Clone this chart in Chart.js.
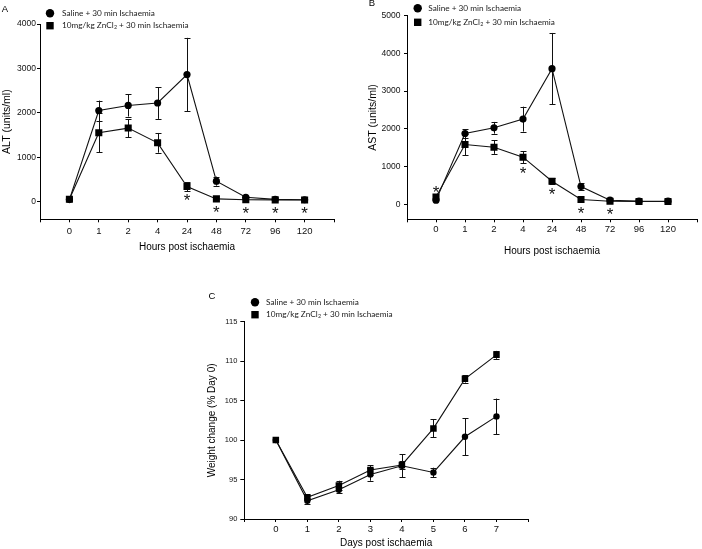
<!DOCTYPE html>
<html><head><meta charset="utf-8">
<script src="https://cdn.jsdelivr.net/npm/chart.js@4"></script>
<style>
html,body{margin:0;padding:0;background:#fff;width:702px;height:549px;overflow:hidden;position:relative}
canvas{position:absolute}
</style></head><body>
<canvas id="cA" width="351" height="270" style="left:0;top:0;width:351px;height:270px"></canvas>
<canvas id="cB" width="351" height="270" style="left:351px;top:0;width:351px;height:270px"></canvas>
<canvas id="cC" width="360" height="269" style="left:180px;top:280px;width:360px;height:269px"></canvas>
<script>
// ---------- data ----------
const hourLabels = ['0','1','2','4','24','48','72','96','120'];
const dayLabels = ['0','1','2','3','4','5','6','7'];
const seriesNames = ['Saline + 30 min Ischaemia', '10mg/kg ZnCl', '2', ' + 30 min Ischaemia'];

const altSaline = [45, 2050, 2165, 2220, 2860, 460, 95, 50, 40];
const altSalineErr = [0, 225, 250, 358, 828, 102, 0, 0, 0];
const altZinc = [52, 1550, 1655, 1323, 338, 60, 40, 38, 35];
const altZincErr = [0, 436, 205, 222, 100, 0, 0, 0, 0];
const altSig = [4, 5, 6, 7, 8];
const altSigAbove = [];
const altTicks = [0, 1000, 2000, 3000, 4000];

const astSaline = [108, 1876, 2027, 2257, 3595, 469, 106, 82, 80];
const astSalineErr = [0, 115, 155, 330, 947, 93, 0, 0, 0];
const astZinc = [190, 1584, 1513, 1248, 611, 124, 80, 72, 72];
const astZincErr = [0, 283, 177, 155, 75, 0, 0, 0, 0];
const astSig = [0, 3, 4, 5, 6];
const astSigAbove = [0];
const astTicks = [0, 1000, 2000, 3000, 4000, 5000];

const wtSaline = [100, 92.3, 93.7, 95.65, 96.75, 95.9, 100.42, 103.0];
const wtSalineErr = [0, 0.4, 0.4, 0.8, 1.45, 0.6, 2.33, 2.26];
const wtZinc = [100, 92.75, 94.25, 96.2, 96.85, 101.48, 107.76, 110.8];
const wtZincErr = [0, 0.3, 0.6, 0.6, 0.5, 1.13, 0.47, 0.5];
const wtTicks = [90, 95, 100, 105, 110, 115];

// ---------- helpers ----------
const FONT = "'Liberation Sans', Arial, sans-serif";
const INK = '#111';

function pts(vals){ return vals.map((v,i)=>({x:i,y:v})); }

function extrasPlugin(cfg){
  return {
    id:'extras_'+cfg.label,
    beforeDatasetsDraw(chart){
      const ctx = chart.ctx, xs = chart.scales.x, ys = chart.scales.y;
      ctx.save();
      ctx.strokeStyle = INK; ctx.lineWidth = 1;
      chart.data.datasets.forEach(ds=>{
        ds.data.forEach((p,i)=>{
          const e = ds.err[i]; if(!e) return;
          const x = Math.round(xs.getPixelForValue(p.x))+0.5;
          const y1 = ys.getPixelForValue(p.y+e), y2 = ys.getPixelForValue(p.y-e);
          ctx.beginPath();
          ctx.moveTo(x,y1); ctx.lineTo(x,y2);
          ctx.moveTo(x-cfg.cap,Math.round(y1)+0.5); ctx.lineTo(x+cfg.cap,Math.round(y1)+0.5);
          ctx.moveTo(x-cfg.cap,Math.round(y2)+0.5); ctx.lineTo(x+cfg.cap,Math.round(y2)+0.5);
          ctx.stroke();
        });
      });
      ctx.restore();
    },
    afterDatasetsDraw(chart){
      if(!cfg.sig) return;
      const ctx = chart.ctx, xs = chart.scales.x, ys = chart.scales.y;
      ctx.save();
      ctx.fillStyle = INK;
      ctx.font = "17px " + FONT;
      ctx.textAlign = 'center';
      ctx.textBaseline = 'alphabetic';
      const m = ctx.measureText('*');
      const a = m.actualBoundingBoxAscent, d = m.actualBoundingBoxDescent;
      cfg.sig.forEach(i=>{
        const above = cfg.sigAbove.includes(i);
        let yb = -Infinity, yt = Infinity;
        chart.data.datasets.forEach(ds=>{
          const p = ds.data[i], e = ds.err[i];
          const r = ds.pointRadius * (ds.pointStyle==='rect'?0.71:1);
          yb = Math.max(yb, ys.getPixelForValue(p.y-e), ys.getPixelForValue(p.y)+r);
          yt = Math.min(yt, ys.getPixelForValue(p.y+e), ys.getPixelForValue(p.y)-r);
        });
        const cy = above ? yt - 5 : yb + 6.5;
        const x = xs.getPixelForValue(i);
        ctx.fillText('*', x, cy + (a - d)/2);
      });
      ctx.restore();
    },
    afterDraw(chart){
      const ctx = chart.ctx;
      ctx.save();
      // panel letter
      ctx.fillStyle = '#000';
      ctx.font = "9.5px " + FONT;
      ctx.textAlign='center'; ctx.textBaseline='middle';
      ctx.fillText(cfg.label, cfg.labelX, cfg.labelY);
      // legend
      const L = cfg.legend;
      ctx.fillStyle = '#000';
      ctx.beginPath(); ctx.arc(L.mx, L.y1, 4.2, 0, Math.PI*2); ctx.fill();
      ctx.fillRect(L.mx-3.7, L.y2-3.7, 7.4, 7.4);
      const fam = "Lato, 'Open Sans', sans-serif";
      ctx.font = "10px " + fam;
      const w10 = ctx.measureText(seriesNames[0]).width;
      const fs = 10 * 93 / w10;
      ctx.font = fs.toFixed(2) + "px " + fam;
      ctx.textAlign = 'left'; ctx.textBaseline='middle';
      ctx.fillStyle = '#1a1a1a';
      ctx.fillText(seriesNames[0], L.tx, L.y1);
      let x = L.tx;
      ctx.fillText(seriesNames[1], x, L.y2);
      x += ctx.measureText(seriesNames[1]).width;
      ctx.font = (fs*0.65).toFixed(2) + "px " + fam;
      ctx.fillText(seriesNames[2], x+0.3, L.y2+2);
      x += ctx.measureText(seriesNames[2]).width + 0.3;
      ctx.font = fs.toFixed(2) + "px " + fam;
      ctx.fillText(seriesNames[3], x, L.y2);
      ctx.restore();
    }
  };
}

function makeChart(id, cfg){
  const xTicks = [];
  for(let i=-1;i<=cfg.cats.length;i++) xTicks.push(i);
  return new Chart(document.getElementById(id), {
    type:'line',
    data:{ datasets:[
      { label:'zinc', data:pts(cfg.zinc), err:cfg.zincErr, order:0,
        borderColor:INK, borderWidth:1.1, backgroundColor:'#000', pointBackgroundColor:'#000', pointBorderColor:'#000', pointBorderWidth:0,
        pointStyle:'rect', pointRadius:cfg.rectR, tension:0 },
      { label:'saline', data:pts(cfg.saline), err:cfg.salineErr, order:1,
        borderColor:INK, borderWidth:1.1, backgroundColor:'#000', pointBackgroundColor:'#000', pointBorderColor:'#000', pointBorderWidth:0,
        pointStyle:'circle', pointRadius:cfg.circR, tension:0 }
    ]},
    options:{
      responsive:false, animation:false, devicePixelRatio:1,
      layout:{ padding: cfg.padding },
      plugins:{ legend:{display:false}, tooltip:{enabled:false} },
      scales:{
        x:{ type:'linear', min:-1, max:cfg.cats.length,
          afterBuildTicks: s => { s.ticks = xTicks.map(v=>({value:v})); },
          afterFit: s => { s.height = cfg.xH; },
          ticks:{ autoSkip:false, maxRotation:0, padding:cfg.xPad, color:INK,
            font:{family:FONT, size:9.5}, callback: v => (cfg.cats[v] !== undefined ? cfg.cats[v] : '') },
          grid:{ drawOnChartArea:false, drawTicks:true, tickLength:3, color:'#000', lineWidth:1 },
          border:{ color:'#000', width:1 },
          title:{ display:true, text:cfg.xTitle, color:'#000', font:{family:FONT, size:10}, padding:{top:0,bottom:cfg.xTitlePad} }
        },
        y:{ type:'linear', min:cfg.yMin, max:cfg.yMax,
          afterBuildTicks: s => { s.ticks = cfg.yTicks.map(v=>({value:v})); },
          afterFit: s => { s.width = cfg.yW; },
          ticks:{ padding:cfg.yPad, color:INK, font:{family:FONT, size:cfg.yFont}, callback: v => String(v) },
          grid:{ drawOnChartArea:false, drawTicks:true, tickLength:cfg.yTick, color:'#000', lineWidth:1 },
          border:{ color:'#000', width:1 },
          title:{ display:true, text:cfg.yTitle, color:'#000', font:{family:FONT, size:cfg.yTitleSize}, padding:{top:cfg.yTitlePad,bottom:0} }
        }
      }
    },
    plugins:[extrasPlugin(cfg)]
  });
}

makeChart('cA', {
  label:'A', labelX:5, labelY:9,
  cats:hourLabels, saline:altSaline, salineErr:altSalineErr, zinc:altZinc, zincErr:altZincErr,
  sig:altSig, sigAbove:altSigAbove, yTicks:altTicks, yMin:-400, yMax:4000,
  padding:{left:0,right:17,top:24,bottom:10.7}, xH:40, yW:40, xPad:3, yPad:1, yTick:3, yFont:8.5,
  xTitle:'Hours post ischaemia', xTitlePad:5.8, yTitle:'ALT (units/ml)', yTitleSize:10.5, yTitlePad:1,
  rectR:5, circR:3.6, cap:3,
  legend:{mx:50, y1:13.3, y2:25.7, tx:62}
});

makeChart('cB', {
  label:'B', labelX:21, labelY:3,
  cats:hourLabels, saline:astSaline, salineErr:astSalineErr, zinc:astZinc, zincErr:astZincErr,
  sig:astSig, sigAbove:astSigAbove, yTicks:astTicks, yMin:-400, yMax:5000,
  padding:{left:0,right:1,top:15.7,bottom:10.7}, xH:40, yW:56, xPad:1.5, yPad:3.5, yTick:3, yFont:8.5,
  xTitle:'Hours post ischaemia', xTitlePad:1.6, yTitle:'AST (units/ml)', yTitleSize:10.5, yTitlePad:15.4,
  rectR:5, circR:3.6, cap:3,
  legend:{mx:66.7, y1:8.3, y2:22.3, tx:77.3}
});

makeChart('cC', {
  label:'C', labelX:32, labelY:16,
  cats:dayLabels, saline:wtSaline, salineErr:wtSalineErr, zinc:wtZinc, zincErr:wtZincErr,
  sig:null, sigAbove:[], yTicks:wtTicks, yMin:90, yMax:115,
  padding:{left:0,right:12,top:41.7,bottom:0}, xH:30, yW:64.3, xPad:1.5, yPad:3, yTick:4, yFont:7.5,
  xTitle:'Days post ischaemia', xTitlePad:0, yTitle:'Weight change (% Day 0)', yTitleSize:10, yTitlePad:26.7,
  rectR:4.6, circR:3.2, cap:3,
  legend:{mx:75, y1:22.3, y2:34.7, tx:86}
});
</script>
</body></html>
